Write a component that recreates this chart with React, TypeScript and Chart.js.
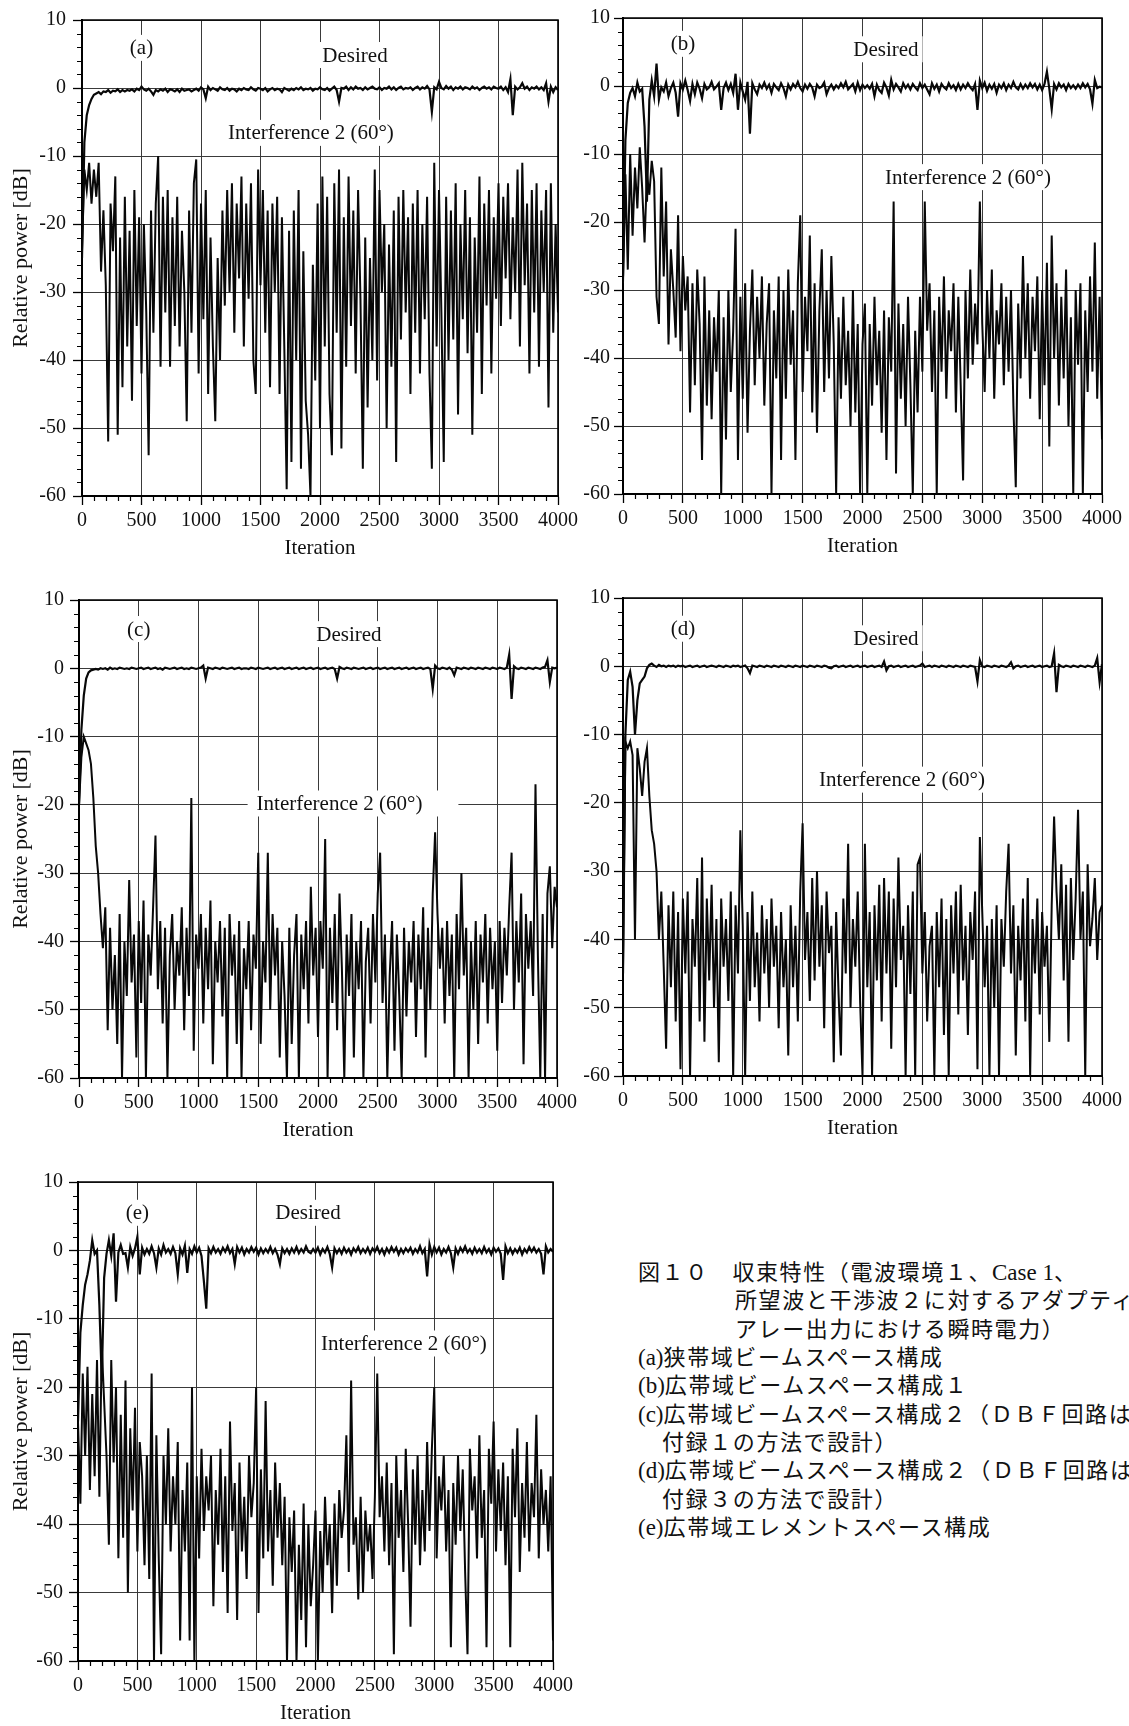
import React, { useEffect, useRef } from "react";
import { Chart, registerables } from "chart.js";

Chart.register(...registerables);

// ---------------- data ----------------
const ITER_STEP = 20; // sample spacing of the series (iterations)
const X_TICKS = [0, 500, 1000, 1500, 2000, 2500, 3000, 3500, 4000];
const Y_TICKS = [-60, -50, -40, -30, -20, -10, 0, 10];
const X_MINOR_STEP = 100;
const Y_MINOR_STEP = 2;

const interfA = [
  -24, -12, -15, -11, -17, -12, -16, -11, -27, -18,
  -29, -52, -17, -24, -13, -51, -22, -44, -16, -38,
  -21, -46, -15, -35, -19, -42, -20, -33, -54, -18,
  -36, -17, -10, -41, -16, -33, -15, -41, -19, -35,
  -16, -38, -21, -30, -49, -18, -36, -14, -10.5, -42,
  -17, -34, -15, -45, -22, -38, -49, -25, -40, -18,
  -32, -15, -30, -14, -36, -17, -28, -13, -38, -17,
  -31, -14, -40, -45, -12, -29, -15, -36, -18, -44,
  -17, -30, -16, -45, -19, -38, -59, -21, -55, -18,
  -40, -15, -56, -24, -46, -51, -60, -26, -43, -17,
  -50, -13, -38, -16, -45, -54, -14, -36, -12, -53,
  -19, -41, -13, -35, -18, -42, -15, -31, -56, -22,
  -47, -25, -40, -12, -43, -15, -30, -20, -50, -23,
  -41, -18, -55, -16, -37, -15, -33, -19, -45, -17,
  -36, -15, -42, -20, -34, -16, -42, -56, -11, -38,
  -15, -33, -55, -16, -40, -18, -37, -14, -48, -20,
  -34, -15, -39, -19, -51, -22, -36, -13, -45, -17,
  -32, -15, -42, -19, -31, -14, -35, -16, -28, -14,
  -34, -19, -30, -12, -38, -11, -29, -17, -42, -15,
  -33, -14, -41, -18, -30, -15, -47, -14, -36, -20,
  -33,
];
const desiredA = [
  -25, -8, -4, -2.5, -1.6, -1, -0.8, -0.6, -0.9, -0.5,
  -0.6, -0.3, -0.7, -0.4, -0.5, -0.2, -0.6, -0.3, -0.5, -0.3,
  -0.4, -0.2, -0.5, -0.1, -0.3, 0.2, -0.2, -0.4, -0.1, -0.5,
  -1, -0.3, -0.5, -0.2, -0.4, -0.1, -0.6, -0.2, -0.3, -0.5,
  -0.2, -0.6, -0.1, -0.4, -0.3, -0.2, -0.5, -0.3, -0.1, -0.4,
  0.1, -0.2, -1.5, 0.2, -0.3, 0, -0.2, -0.4, 0.1, -0.2,
  -0.3, 0, -0.4, -0.1, -0.2, -0.5, -0.1, -0.3, 0, -0.2,
  -0.3, 0.1, -0.2, -0.4, 0, -0.1, -0.3, 0, -0.5, -0.2,
  0, -0.3, -0.1, -0.2, -0.6, 0, -0.2, -0.4, -0.1, -0.3,
  0, -0.2, 0.1, -0.3, -0.1, -0.2, 0, -0.4, -0.1, -0.2,
  0.1, -0.2, -0.3, 0, -0.4, -0.1, 0.2, -0.3, -2, 0,
  -0.1, 0.2, -0.3, 0.1, -0.2, 0.2, -0.1, 0, -0.3, 0.1,
  -0.2, 0, 0.2, -0.1, -0.2, 0.1, -0.3, 0, -0.1, 0.2,
  -0.2, 0.1, -0.3, 0, 0.2, -0.2, 0, -0.1, 0.1, -0.3,
  0, 0.2, -0.2, 0.1, -0.1, 0.3, -0.2, -3.5, 0.1, -0.2,
  0.9, 0, -0.2, 0.3, -0.1, 0.2, -0.3, 0.1, -0.1, 0.2,
  -0.2, 0.1, 0, -0.2, 0.2, -0.1, 0.1, -0.3, 0, 0.2,
  -0.1, 0.1, -0.2, 0.2, 0, -0.1, 0.2, -0.3, 0.1, -0.6,
  1.3, -4, 0.2, -0.2, 0.1, 0.7, -0.1, 0.2, -0.3, 0.1,
  -0.1, 0.2, -0.2, 0.1, -0.3, 0.7, -2, 0.2, -0.6, 0.1,
  -0.3,
];

const interfB = [
  -29, -13, -27, -10, -22, -12, -18, -9, -15, -23,
  -13, -16, -11, -14, -31, -35, -12, -28, -17, -38,
  -24, -30, -37, -19, -39, -25, -33, -28, -48, -29,
  -44, -27, -35, -55, -28, -47, -33, -49, -34, -42,
  -30, -60, -34, -52, -30, -45, -36, -21, -55, -31,
  -46, -29, -51, -36, -27, -44, -31, -40, -28, -47,
  -35, -29, -60, -33, -43, -28, -55, -30, -46, -27,
  -41, -33, -55, -29, -19, -45, -31, -39, -22, -48,
  -29, -51, -33, -24, -45, -30, -43, -25, -38, -60,
  -34, -46, -31, -44, -36, -50, -30, -48, -35, -60,
  -38, -32, -60, -35, -47, -31, -44, -36, -51, -33,
  -55, -34, -42, -17, -57, -32, -46, -35, -50, -31,
  -44, -60, -36, -48, -31, -42, -17, -36, -29, -45,
  -33, -60, -31, -42, -28, -46, -33, -39, -29, -48,
  -31, -44, -58, -30, -43, -27, -41, -32, -38, -17,
  -35, -45, -30, -40, -27, -46, -33, -38, -29, -44,
  -31, -42, -30, -47, -59, -32, -43, -25, -40, -29,
  -46, -31, -39, -28, -49, -30, -44, -26, -53, -22,
  -40, -29, -47, -31, -43, -27, -50, -34, -60, -30,
  -41, -29, -60, -33, -45, -28, -42, -23, -46, -31,
  -52,
];
const desiredB = [
  -28, -8, -2.5, -1, -0.3, -1.5, 0.5, -0.8, -0.4, -6,
  -17, -2, 0.8, -1.5, 3.3, -2, -0.2, -0.8, 0.5, -1.5,
  -0.3, 0.5, -1, -4.5, 0.4, -0.5, 0.8, -0.6, -2.2, 0.3,
  -1.2, 0.5, -0.4, -1.8, 0.3, -0.5, -0.2, 0.6, -0.5, -0.1,
  0.4, -3.5, -0.3, 0.5, -0.6, 0.3, -1, 1.8, -3.5, 0.5,
  -0.8, -2, 0.6, -7, 0.4, -0.5, -1.2, 0.2, -0.3, 0.5,
  -0.4, 0.2, -1, 0.3, -0.2, -0.6, 0.4, -0.3, -1.5, 0.2,
  -0.5, 0.3, -0.2, 0.6, -0.3, -0.8, 0.2, -0.4, 0.3, -0.2,
  -1.5, 0.2, -0.3, -0.1, 0.5, -1.2, -0.3, 0.2, -0.5, 0.1,
  -0.3, 0.4, -0.2, 0.6, -0.5, -0.1, 0.3, -0.8, 0.5, -0.6,
  0.2, -0.3, 0.1, -0.4, 0.3, -1.5, 0.2, -0.6, -1, 0.5,
  -0.2, -1.4, 0.9, -0.5, 0.3, -0.2, -0.8, 0.4, -0.3, 0.2,
  -0.5, 0.3, -0.2, -0.6, 0.4, -0.3, 0.2, -0.5, -1.2, 0.4,
  -0.4, 0.2, -0.8, 0.3, -0.2, -0.5, 0.4, -0.3, 0.1, -0.6,
  0.3, -0.5, 0.2, -0.3, 0.4, -0.2, -0.6, 0.3, -3.5, 0.8,
  -0.3, 0.5, -0.7, 0.2, -0.4, 0.3, -1, 0.2, -0.3, 0.4,
  -0.6, 0.2, -0.3, 0.6, -0.2, -0.5, 0.3, -0.4, 0.2, -0.3,
  0.4, -0.2, 0.3, -0.5, 0.2, -0.6, 0.3, 2.1, -0.4, -3.4,
  0.3, -0.5, 0.4, -0.2, 0.2, -0.6, 0.3, -0.3, 0.1, -0.4,
  0.2, -0.3, 0.4, -0.2, 0.3, -0.5, -2.6, 0.9, -0.3, -0.1,
  -0.2,
];

const interfC = [
  -20, -13, -10, -11, -12, -14, -19, -26, -30, -36,
  -41, -35, -53, -38, -50, -42, -55, -36, -60, -40,
  -48, -31, -46, -39, -57, -37, -49, -34, -60, -39,
  -45, -35, -24.5, -47, -37, -52, -38, -60, -42, -36,
  -50, -40, -45, -35, -53, -38, -48, -19, -56, -39,
  -44, -36, -52, -38, -47, -34, -58, -40, -46, -37,
  -51, -38, -60, -36, -45, -39, -55, -37, -60, -41,
  -47, -37, -53, -39, -44, -27, -55, -40, -46, -27,
  -50, -36, -45, -38, -57, -40, -48, -60, -38, -55,
  -42, -36, -60, -39, -47, -37, -52, -32, -45, -38,
  -54, -37, -44, -25, -60, -38, -49, -36, -53, -33,
  -44, -60, -39, -48, -36, -57, -40, -47, -37, -60,
  -43, -38, -52, -36, -46, -33, -27, -49, -39, -60,
  -45, -37, -56, -39, -48, -60, -38, -51, -40, -46,
  -37, -54, -39, -47, -35, -57, -38, -50, -33, -24,
  -36, -44, -38, -52, -37, -48, -39, -60, -36, -47,
  -30, -45, -38, -60, -40, -50, -37, -55, -39, -46,
  -36, -52, -38, -47, -40, -56, -37, -49, -38, -45,
  -35, -27, -50, -37, -46, -33, -58, -36, -44, -37,
  -48, -17, -42, -60, -36, -60, -33, -29, -41, -32,
  -35,
];
const desiredC = [
  -20, -9, -4, -1.5, -0.6, -0.3, -0.2, -0.1, -0.2, 0,
  -0.1, 0, -0.2, 0.1, -0.1, 0, -0.1, 0.1, 0, -0.1,
  0, -0.1, 0.1, 0, -0.1, 0, 0.1, -0.1, 0, 0.1,
  -0.1, 0, 0.1, -0.1, 0, -0.2, 0.1, 0, -0.1, 0,
  0.1, -0.1, 0, 0.1, -0.1, 0, -0.1, 0.1, 0, -0.1,
  0, 0.1, 0.4, -1.5, 0.1, 0, -0.1, 0.1, 0, -0.1,
  0.1, 0, -0.1, 0, 0.1, -0.1, 0, 0.1, -0.1, 0,
  0, -0.1, 0.1, 0, -0.1, 0.1, 0, -0.1, 0, 0.1,
  -0.1, 0, 0.1, -0.1, 0, 0.1, -0.1, 0, 0.1, -0.1,
  0, 0.1, -0.1, 0, 0.1, -0.1, 0, 0.1, -0.1, 0,
  0.1, -0.1, 0, 0.1, -0.1, 0, 0.1, -0.1, -1.5, 0.2,
  0, -0.1, 0.1, 0, -0.1, 0.1, 0, -0.1, 0, 0.1,
  -0.1, 0, 0.1, -0.1, 0, 0.1, -0.1, 0, 0.1, -0.1,
  0, 0.1, -0.1, 0, 0.1, -0.1, 0, 0.1, -0.1, 0,
  0.1, -0.1, 0, 0.1, -0.1, 0, 0.1, -0.1, -3, 0.4,
  0, -0.1, 0.1, 0, -0.1, 0.1, -0.2, -1, 0.1, 0,
  -0.1, 0.1, 0, -0.1, 0.1, 0, -0.1, 0.1, 0, -0.1,
  0.1, 0, -0.1, 0.1, 0, -0.1, 0.1, 0, -0.1, 0.1,
  2, -4.5, 0.3, 0, -0.1, 0.1, 0, -0.1, 0.1, 0,
  -0.1, 0.1, 0, -0.1, 0.1, 0.2, 1.2, -2, 0.1, 0,
  0.1,
];

const interfD = [
  -44, -11, -12, -11, -13, -40, -12, -15, -19, -14,
  -12, -19, -24, -26, -30, -40, -33, -44, -56, -35,
  -47, -33, -52, -36, -59, -34, -45, -33, -60, -37,
  -44, -31, -52, -28, -55, -34, -46, -32, -50, -37,
  -58, -34, -44, -37, -49, -33, -60, -35, -45, -24,
  -38, -60, -36, -49, -33, -47, -39, -52, -35, -45,
  -37, -50, -34, -44, -38, -53, -36, -47, -40, -57,
  -35, -47, -38, -52, -33, -23, -43, -36, -49, -31,
  -46, -30, -44, -35, -53, -33, -42, -38, -58, -36,
  -48, -57, -34, -45, -26, -50, -37, -44, -33, -49,
  -60, -26, -47, -36, -60, -35, -46, -32, -52, -31,
  -45, -33, -56, -34, -47, -28, -43, -38, -60, -35,
  -48, -33, -60, -29, -28, -45, -36, -52, -41, -38,
  -60, -36, -47, -34, -54, -37, -60, -35, -45, -33,
  -51, -32, -46, -38, -54, -36, -43, -33, -59, -25,
  -36, -47, -38, -60, -37, -50, -35, -60, -37, -44,
  -33, -26, -45, -35, -57, -38, -46, -34, -52, -31,
  -60, -37, -45, -34, -51, -36, -44, -38, -55, -35,
  -22, -33, -40, -29, -46, -32, -55, -31, -43, -34,
  -21, -40, -33, -60, -29, -41, -37, -31, -43, -36,
  -35,
];
const desiredD = [
  -45, -10, -2, -0.8, -3, -10, -5, -2.5, -2, -1.5,
  -0.3, 0.2, 0.4, 0.1, -0.1, 0.2, 0, 0.1, -0.1, 0.1,
  0, 0.1, -0.1, 0.1, 0, 0.1, -0.1, 0, 0.1, -0.1,
  0, 0.1, -0.1, 0, 0.1, -0.1, 0, 0.1, 0, -0.1,
  0.1, 0, -0.1, 0.1, 0, -0.1, 0.1, 0, 0.1, -0.1,
  0, 0.1, -0.3, -1, 0.1, 0, -0.1, 0.1, 0, -0.1,
  0.1, 0, -0.1, 0.1, 0, -0.1, 0.1, 0, -0.1, 0.1,
  0, -0.1, 0.1, 0, -0.1, 0.1, 0, -0.1, 0.1, 0,
  -0.1, 0.1, 0, -0.1, 0.1, 0, -0.2, -0.3, 0, 0.1,
  -0.1, 0, 0.1, -0.1, 0, 0.1, -0.1, 0, 0.1, -0.1,
  0, 0.1, -0.1, 0, 0.1, -0.1, 0, 0.1, -0.1, 0.7,
  -0.6, 0, 0.1, -0.1, 0, 0.1, -0.1, 0, 0.1, -0.1,
  0, 0.1, -0.1, 0, 0.1, 0.4, -0.1, 0, 0.1, -0.1,
  0.1, 0, -0.1, 0.1, 0, -0.1, 0.1, 0, -0.1, 0.1,
  0, -0.1, 0.1, 0, -0.1, 0.1, 0, -0.1, -2.2, 0.9,
  0, -0.1, 0.1, 0, -0.1, 0.1, 0, -0.1, 0.1, 0,
  -0.1, 0.1, 0.6, -0.3, 0, 0.1, -0.1, 0, 0.1, -0.1,
  0, 0.1, -0.1, 0, 0.1, -0.1, 0, 0.1, -0.1, 0,
  1.9, -3.8, 0.2, 0, -0.1, 0.1, 0, -0.1, 0.1, 0,
  -0.1, 0.1, 0, -0.1, 0.1, 0, -0.1, 0.1, 1.2, -2.3,
  0.3,
];

const interfE = [
  -25, -37, -18, -30, -17, -35, -21, -33, -16, -36,
  -14, -22, -30, -43, -16, -31, -20, -45, -24, -42,
  -19, -50, -26, -38, -23, -44, -28, -33, -46, -30,
  -48, -18, -60, -27, -45, -59, -30, -40, -26, -44,
  -33, -40, -28, -57, -35, -44, -31, -57, -20, -60,
  -33, -45, -29, -41, -33, -38, -30, -52, -35, -43,
  -29, -47, -33, -53, -25, -41, -34, -54, -31, -44,
  -36, -48, -30, -39, -34, -20, -53, -32, -45, -22,
  -44, -35, -49, -31, -42, -34, -46, -36, -60, -39,
  -47, -38, -60, -43, -54, -37, -58, -40, -52, -46,
  -38, -60, -41, -50, -36, -46, -40, -53, -37, -49,
  -35, -42, -38, -27, -47, -19, -43, -39, -51, -36,
  -50, -38, -44, -40, -48, -36, -18, -39, -33, -44,
  -31, -46, -34, -59, -30, -42, -35, -47, -29, -40,
  -55, -32, -43, -30, -46, -35, -44, -28, -41, -29,
  -20, -45, -33, -38, -30, -44, -35, -58, -34, -43,
  -30, -41, -32, -47, -59, -29, -38, -33, -45, -27,
  -42, -35, -58, -29, -37, -25, -44, -32, -41, -31,
  -46, -33, -58, -29, -39, -26, -47, -34, -42, -28,
  -44, -34, -39, -24, -45, -32, -40, -35, -44, -33,
  -57,
];
const desiredE = [
  -25, -12, -8, -5, -3.5, -1.5, 1.5, -0.5, 0, -8,
  -19, -4, -0.5, 1.5, -0.8, 2.5, -7.5, -0.3, 0.8, -0.5,
  -0.4, -2.5, 0.5, -0.8, 0.3, 2, -3.5, 0.4, -0.6, 0.2,
  -0.5, 0.6, -0.4, -2.5, 0.3, -0.6, 0.8, -0.3, 0.2, -0.5,
  0.5, -0.4, -3.5, 0.3, -0.6, 0.7, -3.3, 0.2, -0.5, 0.6,
  -0.3, 0.4, -0.8, -4.5, -8.5, 0.3, -0.4, 0.5, -0.3, 0.2,
  -0.5, 0.4, -0.2, 0.6, -0.4, 0.2, -2, 0.5, -0.3, 0.4,
  -0.6, 0.2, -0.3, 0.5, -0.2, 0.4, -0.6, 0.3, -0.4, 0.2,
  -0.3, 0.5, -0.4, 0.2, -0.6, -2, 0.3, -0.4, 0.2, -0.5,
  0.3, -0.3, 0.5, -0.4, 0.2, -0.3, 0.6, -0.2, -0.4, 0.2,
  -0.3, 0.4, -0.6, 0.2, -0.3, 0.5, -0.5, -2.5, 0.3, -0.4,
  0.2, -0.5, 0.4, -0.3, 0.2, -0.6, 0.3, -0.2, 0.5, -0.4,
  0.2, -0.3, 0.4, -0.5, 0.3, -0.2, 0.5, -0.4, 0.2, -0.6,
  0.3, -0.3, 0.5, -0.2, 0.4, -0.6, 0.2, -0.4, 0.3, -0.2,
  0.4, -0.5, 0.2, -0.3, 0.6, -0.4, 0.2, -3.8, 0.9, -0.6,
  0.5, -0.3, 0.4, -0.6, 0.2, -0.3, 0.5, -0.4, -2.5, 0.3,
  -0.5, 0.4, -0.2, 0.6, -0.3, 0.2, -0.5, 0.4, -0.3, 0.2,
  -0.4, 0.5, -0.3, 0.2, -0.6, 0.4, -0.2, 0.3, -0.5, -4.3,
  0.6, -0.4, 0.3, -0.5, 0.2, -0.3, 0.4, -0.6, 0.2, -0.3,
  0.5, -0.2, 0.4, -0.3, 0.2, -0.5, -3.5, 0.6, -0.3, 0.2,
  -0.2,
];

const CAPTION_LINES: { indent: number; text: string }[] = [
  { indent: 0, text: "図１０　収束特性（電波環境１、Case 1、" },
  { indent: 97, text: "所望波と干渉波２に対するアダプティブ" },
  { indent: 97, text: "アレー出力における瞬時電力）" },
  { indent: 0, text: "(a)狭帯域ビームスペース構成" },
  { indent: 0, text: "(b)広帯域ビームスペース構成１" },
  { indent: 0, text: "(c)広帯域ビームスペース構成２（ＤＢＦ回路は" },
  { indent: 24, text: "付録１の方法で設計）" },
  { indent: 0, text: "(d)広帯域ビームスペース構成２（ＤＢＦ回路は" },
  { indent: 24, text: "付録３の方法で設計）" },
  { indent: 0, text: "(e)広帯域エレメントスペース構成" },
];

// ---------------- layout / styling ----------------
const SERIF = '"Liberation Serif", "Times New Roman", serif';
const INK = "#111";

type Note = { text: string; x: number; y: number; padL?: number; padR?: number };
type PanelSpec = {
  key: string;
  canvas: { left: number; top: number; width: number; height: number };
  plot: { l: number; t: number; r: number; b: number };
  interference: number[];
  desired: number[];
  yTitle: boolean;
  yLabelPad: number;
  notes: Note[];
};

const INTERF_LABEL = "Interference 2 (60°)";

const PANELS: PanelSpec[] = [
  {
    key: "a",
    canvas: { left: 0, top: 0, width: 590, height: 570 },
    plot: { l: 82, t: 20, r: 558, b: 496 },
    interference: interfA, desired: desiredA, yTitle: true, yLabelPad: 7,
    notes: [
      { text: "(a)", x: 500, y: 5.9 },
      { text: "Desired", x: 2294, y: 4.85 },
      { text: INTERF_LABEL, x: 1924, y: -6.6 },
    ],
  },
  {
    key: "b",
    canvas: { left: 570, top: 0, width: 559, height: 570 },
    plot: { l: 623, t: 18, r: 1102, b: 494 },
    interference: interfB, desired: desiredB, yTitle: false, yLabelPad: 4,
    notes: [
      { text: "(b)", x: 500, y: 6.2 },
      { text: "Desired", x: 2196, y: 5.4 },
      { text: INTERF_LABEL, x: 2881, y: -13.4 },
    ],
  },
  {
    key: "c",
    canvas: { left: 0, top: 580, width: 590, height: 570 },
    plot: { l: 79, t: 600, r: 557, b: 1078 },
    interference: interfC, desired: desiredC, yTitle: true, yLabelPad: 6,
    notes: [
      { text: "(c)", x: 500, y: 5.75 },
      { text: "Desired", x: 2259, y: 5.0 },
      { text: INTERF_LABEL, x: 2180, y: -19.8, padL: 9, padR: 36 },
    ],
  },
  {
    key: "d",
    canvas: { left: 570, top: 580, width: 559, height: 570 },
    plot: { l: 623, t: 598, r: 1102, b: 1076 },
    interference: interfD, desired: desiredD, yTitle: false, yLabelPad: 4,
    notes: [
      { text: "(d)", x: 500, y: 5.5 },
      { text: "Desired", x: 2196, y: 4.1 },
      { text: INTERF_LABEL, x: 2330, y: -16.6 },
    ],
  },
  {
    key: "e",
    canvas: { left: 0, top: 1160, width: 590, height: 566 },
    plot: { l: 78, t: 1182, r: 553, b: 1661 },
    interference: interfE, desired: desiredE, yTitle: true, yLabelPad: 6,
    notes: [
      { text: "(e)", x: 500, y: 5.5 },
      { text: "Desired", x: 1937, y: 5.5 },
      { text: INTERF_LABEL, x: 2745, y: -13.6 },
    ],
  },
];

function toPoints(values: number[]) {
  return values.map((y, i) => ({ x: i * ITER_STEP, y }));
}

function decorPlugin(spec: PanelSpec) {
  return {
    id: "decor_" + spec.key,
    afterDatasetsDraw(chart: any) {
      const ctx = chart.ctx;
      const xs = chart.scales.x;
      const ys = chart.scales.y;
      ctx.save();
      ctx.font = `21px ${SERIF}`;
      ctx.textAlign = "center";
      ctx.textBaseline = "middle";
      for (const n of spec.notes) {
        const px = xs.getPixelForValue(n.x);
        const py = ys.getPixelForValue(n.y);
        const w = ctx.measureText(n.text).width;
        const pl = n.padL ?? 4;
        const pr = n.padR ?? 4;
        ctx.fillStyle = "#fff";
        ctx.fillRect(px - w / 2 - pl, py - 13, w + pl + pr, 26);
        ctx.fillStyle = INK;
        ctx.fillText(n.text, px, py + 1);
      }
      ctx.restore();
    },
    afterDraw(chart: any) {
      const ctx = chart.ctx;
      const { left, right, top, bottom } = chart.chartArea;
      const xs = chart.scales.x;
      const ys = chart.scales.y;
      ctx.save();
      ctx.strokeStyle = "#000";
      ctx.lineWidth = 1.6;
      ctx.beginPath();
      ctx.moveTo(left, top);
      ctx.lineTo(right, top);
      ctx.lineTo(right, bottom);
      ctx.stroke();
      ctx.lineWidth = 1.2;
      ctx.beginPath();
      for (let v = X_MINOR_STEP; v < 4000; v += X_MINOR_STEP) {
        if (v % 500 === 0) continue;
        const px = Math.round(xs.getPixelForValue(v)) + 0.5;
        ctx.moveTo(px, bottom);
        ctx.lineTo(px, bottom + 5);
      }
      for (let v = -60 + Y_MINOR_STEP; v < 10; v += Y_MINOR_STEP) {
        if (v % 10 === 0) continue;
        const py = Math.round(ys.getPixelForValue(v)) + 0.5;
        ctx.moveTo(left - 5, py);
        ctx.lineTo(left, py);
      }
      ctx.stroke();
      ctx.restore();
    },
  };
}

function Panel({ spec }: { spec: PanelSpec }) {
  const ref = useRef<HTMLCanvasElement | null>(null);
  const cv = spec.canvas;
  const p = spec.plot;
  useEffect(() => {
    const canvas = ref.current;
    if (!canvas) return;
    const tickFont = { family: SERIF, size: 20 };
    const xAxisH = cv.top + cv.height - p.b;
    const yAxisW = p.l - cv.left;
    const xTitleCenterFromBottom = cv.top + cv.height - (p.b + 52);
    const chart = new Chart(canvas, {
      type: "line",
      data: {
        datasets: [
          {
            label: INTERF_LABEL,
            data: toPoints(spec.interference),
            borderColor: "#080808",
            borderWidth: 2,
            pointRadius: 0,
            tension: 0,
          },
          {
            label: "Desired",
            data: toPoints(spec.desired),
            borderColor: "#080808",
            borderWidth: 2.2,
            pointRadius: 0,
            tension: 0,
          },
        ],
      },
      options: {
        animation: false,
        responsive: false,
        devicePixelRatio: 1,
        events: [],
        layout: {
          padding: { left: 0, top: p.t - cv.top, right: cv.left + cv.width - p.r, bottom: 0 },
        },
        plugins: { legend: { display: false }, tooltip: { enabled: false } },
        scales: {
          x: {
            type: "linear",
            min: 0,
            max: 4000,
            afterBuildTicks: (s: any) => {
              s.ticks = X_TICKS.map((v) => ({ value: v }));
            },
            afterFit: (s: any) => {
              s.height = xAxisH;
              s.paddingLeft = 0;
              s.paddingRight = 0;
            },
            ticks: {
              font: tickFont,
              color: INK,
              padding: 4,
              autoSkip: false,
              maxRotation: 0,
              minRotation: 0,
              callback: (v: any) => String(v),
            },
            grid: { color: "#3a3a3a", lineWidth: 1, tickLength: 9, tickColor: "#000", tickWidth: 1.3 },
            border: { display: true, color: "#000", width: 2 },
            title: {
              display: true,
              text: "Iteration",
              color: INK,
              font: { family: SERIF, size: 21 },
              padding: { top: 0, bottom: Math.max(0, xTitleCenterFromBottom - 12.6) },
            },
          },
          y: {
            type: "linear",
            min: -60,
            max: 10,
            afterBuildTicks: (s: any) => {
              s.ticks = Y_TICKS.map((v) => ({ value: v }));
            },
            afterFit: (s: any) => {
              s.width = yAxisW;
              s.paddingTop = 0;
              s.paddingBottom = 0;
            },
            ticks: {
              font: tickFont,
              color: INK,
              padding: spec.yLabelPad,
              autoSkip: false,
              callback: (v: any) => String(v),
            },
            grid: { color: "#3a3a3a", lineWidth: 1, tickLength: 9, tickColor: "#000", tickWidth: 1.3 },
            border: { display: true, color: "#000", width: 2 },
            title: {
              display: spec.yTitle,
              text: "Relative power [dB]",
              color: INK,
              font: { family: SERIF, size: 22 },
              padding: { top: 8, bottom: 0 },
            },
          },
        },
      },
      plugins: [decorPlugin(spec)],
    } as any);
    return () => chart.destroy();
  }, []);
  return (
    <canvas
      ref={ref}
      width={cv.width}
      height={cv.height}
      style={{ position: "absolute", left: cv.left, top: cv.top, width: cv.width, height: cv.height }}
    />
  );
}

function CaptionLine({ text, indent }: { text: string; indent: number }) {
  const parts = text.split(/([\x20-\x7E]+)/).filter((s) => s.length > 0);
  return (
    <div style={{ paddingLeft: indent, height: 28.33, lineHeight: "28.33px", whiteSpace: "nowrap" }}>
      {parts.map((s, i) =>
        /^[\x20-\x7E]+$/.test(s) ? (
          <span key={i} style={{ fontFamily: SERIF, letterSpacing: 0, fontSize: 23 }}>
            {s}
          </span>
        ) : (
          <span key={i}>{s}</span>
        )
      )}
    </div>
  );
}

export default function App() {
  return (
    <div style={{ position: "absolute", left: 0, top: 0, width: 1129, height: 1726, background: "#fff", overflow: "hidden" }}>
      {PANELS.map((s) => (
        <Panel key={s.key} spec={s} />
      ))}
      <div
        style={{
          position: "absolute",
          left: 638,
          top: 1256,
          width: 1129 - 638,
          overflow: "hidden",
          fontFamily: '"Noto Sans CJK JP", sans-serif',
          fontSize: 22,
          letterSpacing: "1.6px",
          color: INK,
        }}
      >
        {CAPTION_LINES.map((l, i) => (
          <CaptionLine key={i} text={l.text} indent={l.indent} />
        ))}
      </div>
    </div>
  );
}
